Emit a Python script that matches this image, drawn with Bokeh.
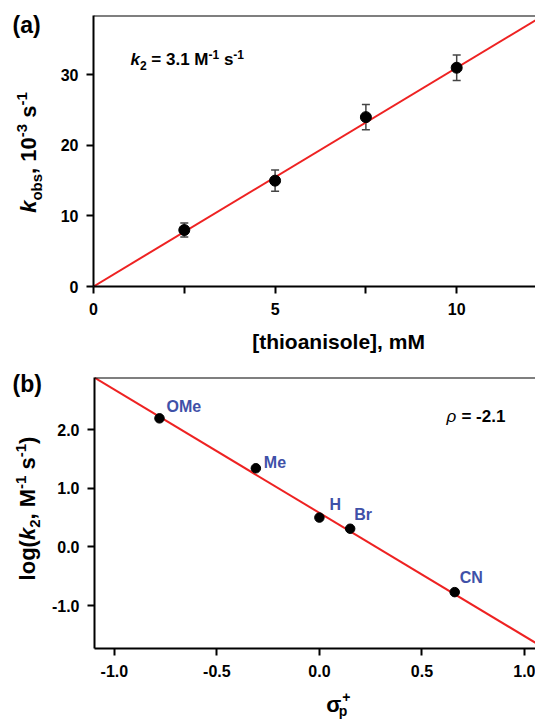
import math
from bokeh.plotting import figure
from bokeh.models import (Label, Span, FixedTicker, Whisker, ColumnDataSource,
                          Range1d, PrintfTickFormatter, TeeHead)
from bokeh.layouts import column, row
from bokeh.embed import file_html
from bokeh.resources import INLINE

# ---------------- data ----------------
# panel (a): pseudo-first-order rate constants vs thioanisole concentration
conc_mM = [2.5, 5.0, 7.5, 10.0]
kobs = [8.0, 15.0, 24.0, 31.0]          # 10^-3 s^-1
kobs_err = [1.0, 1.5, 1.8, 1.8]
k2_fit = 3.1                            # M^-1 s^-1 (slope)
conc_ticks = [0, 5, 10]
conc_minor_ticks = [2.5, 7.5]
kobs_ticks = [0, 10, 20, 30]

# panel (b): Hammett plot
substituents = ["OMe", "Me", "H", "Br", "CN"]
sigma_p_plus = [-0.78, -0.31, 0.0, 0.15, 0.66]
log_k2 = [2.19, 1.34, 0.50, 0.31, -0.77]
rho_fit = -2.1
intercept_fit = 0.58
sigma_ticks = [-1.0, -0.5, 0.0, 0.5, 1.0]
logk_ticks = [-1.0, 0.0, 1.0, 2.0]

# ---------------- style ----------------
FONT = "Liberation Sans"
BLUE = "#3F51A8"
RED = "#EE2222"
LW = 48                 # width of the left text strip
MW = 535 - LW           # width of the plot figures
HA, HB = 355, 364       # panel heights
MA_H, MB_H = 326, 332   # plot figure heights
A_TOP, A_FB = 15, 286   # frame top / bottom (panel a)
B_TOP, B_FB = 22, 293   # frame top / bottom (panel b)
FL = 93                 # frame left in page pixels
BASE_FIX = 0.36         # baseline correction (em) for Label placement
label_dx = [7, 8, 10, 4, 5]
label_dy = [6, 0, 7, 8, 9]

ADV = {' ': 278, '(': 333, ')': 333, '+': 584, ',': 278, '-': 333, '.': 278,
       '=': 584, 'M': 833, 'b': 611, 'e': 556, 'g': 611, 'k': 556, 'l': 278,
       'o': 611, 'p': 611, 's': 556, 'ρ': 600, 'σ': 620, '[': 333, ']': 333}


def tw(txt, size):
    return sum(ADV.get(c, 556) for c in txt) * size / 1000.0


def style_axes(p):
    p.outline_line_color = None
    p.grid.visible = False
    for ax in (p.xaxis[0], p.yaxis[0]):
        ax.axis_line_width = 2
        ax.axis_line_color = "black"
        ax.major_tick_line_width = 2
        ax.major_tick_line_color = "black"
        ax.major_tick_out = 7
        ax.major_tick_in = 0
        ax.minor_tick_line_width = 2
        ax.minor_tick_line_color = "black"
        ax.minor_tick_out = 7
        ax.minor_tick_in = 0
        ax.major_label_text_font = FONT
        ax.major_label_text_font_style = "bold"
        ax.major_label_text_font_size = "16px"
        ax.major_label_text_color = "black"
        ax.major_label_standoff = 8
        ax.axis_label = None


def holder(w, h):
    """A bare figure whose frame is its whole canvas: data units = pixels (y down)."""
    f = figure(width=w, height=h, x_range=Range1d(0, w), y_range=Range1d(h, 0),
               output_backend="svg", toolbar_location=None, title=None,
               min_border_left=0, min_border_right=0, min_border_top=0, min_border_bottom=0,
               x_axis_location=None, y_axis_location=None)
    f.outline_line_color = None
    f.grid.visible = False
    return f


def put(p, txt, px, py, size, style, color="black", angle=0.0, align="left", origin=None):
    """(px, py): baseline start in pixels of p's canvas (holder: its own pixels)."""
    lead = len(txt) - len(txt.lstrip(" "))
    if lead and align == "left":
        d = tw(" " * lead, size)
        if angle:
            py -= d
        else:
            px += d
        txt = txt.lstrip(" ")
    fix = BASE_FIX * size
    if angle:
        px -= fix
    else:
        py -= fix
    kw = dict(text=txt, text_font=FONT, text_font_size=f"{size}px",
              text_font_style=style, text_color=color, angle=angle,
              text_align=align, text_baseline="alphabetic")
    if origin is None:
        p.add_layout(Label(x=px, y=py, **kw))
    else:
        fl, fb = origin
        p.add_layout(Label(x=p.x_range.start, y=p.y_range.start,
                           x_offset=px - fl, y_offset=fb - py, **kw))


def rich(p, pieces, px, py, rot=False, origin=None):
    cum = 0.0
    for txt, size, shift, style in pieces:
        if rot:
            put(p, txt, px + shift, py - cum, size, style, angle=math.pi / 2, origin=origin)
        else:
            put(p, txt, px + cum, py + shift, size, style, origin=origin)
        cum += tw(txt, size)


def total(pieces):
    return sum(tw(t, s) for t, s, _, _ in pieces)


# ---------------- panel (a) ----------------
pa = figure(width=MW, height=MA_H, x_range=Range1d(0, 12.17), y_range=Range1d(0, 38.4),
            output_backend="svg", toolbar_location=None, title=None,
            min_border_left=FL - LW, min_border_right=0,
            min_border_top=A_TOP, min_border_bottom=MA_H - A_FB)
style_axes(pa)
pa.xaxis.ticker = FixedTicker(ticks=conc_ticks, minor_ticks=conc_minor_ticks)
pa.yaxis.ticker = FixedTicker(ticks=kobs_ticks, minor_ticks=[])
pa.xaxis.major_label_standoff = 9
pa.add_layout(Span(location=38.4, dimension="width", line_color="black", line_width=2))

xa = [pa.x_range.start, pa.x_range.end]
pa.line(x=xa, y=[k2_fit * v for v in xa], line_color=RED, line_width=2)

src_a = ColumnDataSource(dict(x=conc_mM, y=kobs,
                              lo=[y - e for y, e in zip(kobs, kobs_err)],
                              hi=[y + e for y, e in zip(kobs, kobs_err)]))
wh = Whisker(base="x", upper="hi", lower="lo", source=src_a,
             line_color="#444444", line_width=1.5,
             upper_head=TeeHead(size=8, line_color="#444444", line_width=1.5),
             lower_head=TeeHead(size=8, line_color="#444444", line_width=1.5))
pa.add_layout(wh)
pa.scatter("x", "y", source=src_a, size=11, color="black")

oa = (FL - LW, A_FB)
rich(pa, [("k", 17, 0, "bold italic"), ("2", 12, 4, "bold"),
          (" = 3.1 M", 17, 0, "bold"), ("-1", 12, -7, "bold"),
          (" s", 17, 0, "bold"), ("-1", 12, -7, "bold")], 130 - LW, 65, origin=oa)

la = holder(LW, HA)
put(la, "(a)", 12, 33, 23, "bold")
ya_pieces = [("k", 22, 0, "bold italic"), ("obs", 15, 5, "bold"),
             (", 10", 22, 0, "bold"), ("-3", 15, -9, "bold"),
             (" s", 22, 0, "bold"), ("-1", 15, -9, "bold")]
rich(la, ya_pieces, 36, 152 + total(ya_pieces) / 2, rot=True)

ba = holder(MW, HA - MA_H)
put(ba, "[thioanisole], mM", 318 - LW, 349 - MA_H, 21, "bold", align="center")

# ---------------- panel (b) ----------------
pb = figure(width=MW, height=MB_H, x_range=Range1d(-1.097, 1.054), y_range=Range1d(-1.73, 2.886),
            output_backend="svg", toolbar_location=None, title=None,
            min_border_left=FL - LW, min_border_right=0,
            min_border_top=B_TOP, min_border_bottom=MB_H - B_FB)
style_axes(pb)
pb.xaxis.ticker = FixedTicker(ticks=sigma_ticks, minor_ticks=[])
pb.yaxis.ticker = FixedTicker(ticks=logk_ticks, minor_ticks=[])
pb.xaxis.formatter = PrintfTickFormatter(format="%.1f")
pb.yaxis.formatter = PrintfTickFormatter(format="%.1f")
pb.xaxis.major_label_standoff = 9
pb.add_layout(Span(location=2.886, dimension="width", line_color="black", line_width=2))

xb = [pb.x_range.start, pb.x_range.end]
pb.line(x=xb, y=[intercept_fit + rho_fit * v for v in xb], line_color=RED, line_width=2)
pb.scatter(sigma_p_plus, log_k2, size=9.5, color="black")

for name, sx, ly, dx, dy in zip(substituents, sigma_p_plus, log_k2, label_dx, label_dy):
    pb.add_layout(Label(x=sx, y=ly, x_offset=dx, y_offset=dy + BASE_FIX * 16, text=name,
                        text_font=FONT, text_font_size="16px", text_font_style="bold",
                        text_color=BLUE, text_baseline="alphabetic", text_align="left"))

ob = (FL - LW, B_FB)
rich(pb, [("ρ", 17, 0, "italic"), (" = -2.1", 17, 0, "bold")], 445 - LW, 67, origin=ob)

lb = holder(LW, HB)
put(lb, "(b)", 12, 37, 23, "bold")
yb_pieces = [("log(", 22, 0, "bold"), ("k", 22, 0, "bold italic"), ("2", 15, 5, "bold"),
             (", M", 22, 0, "bold"), ("-1", 15, -9, "bold"), (" s", 22, 0, "bold"),
             ("-1", 15, -9, "bold"), (")", 22, 0, "bold")]
rich(lb, yb_pieces, 35, 153 + total(yb_pieces) / 2, rot=True)

bb = holder(MW, HB - MB_H)
sx0 = 304 - LW
put(bb, "σ", sx0, 357 - MB_H, 22, "bold")
put(bb, "p", sx0 + tw("σ", 22), 361 - MB_H, 14, "bold")
put(bb, "+", sx0 + tw("σ", 22) + 4, 347 - MB_H, 14, "bold")

panel_a = row(la, column(pa, ba, spacing=0), spacing=0)
panel_b = row(lb, column(pb, bb, spacing=0), spacing=0)
layout = column(panel_a, panel_b, spacing=0)
open("out.html", "w").write(file_html(layout, INLINE))
